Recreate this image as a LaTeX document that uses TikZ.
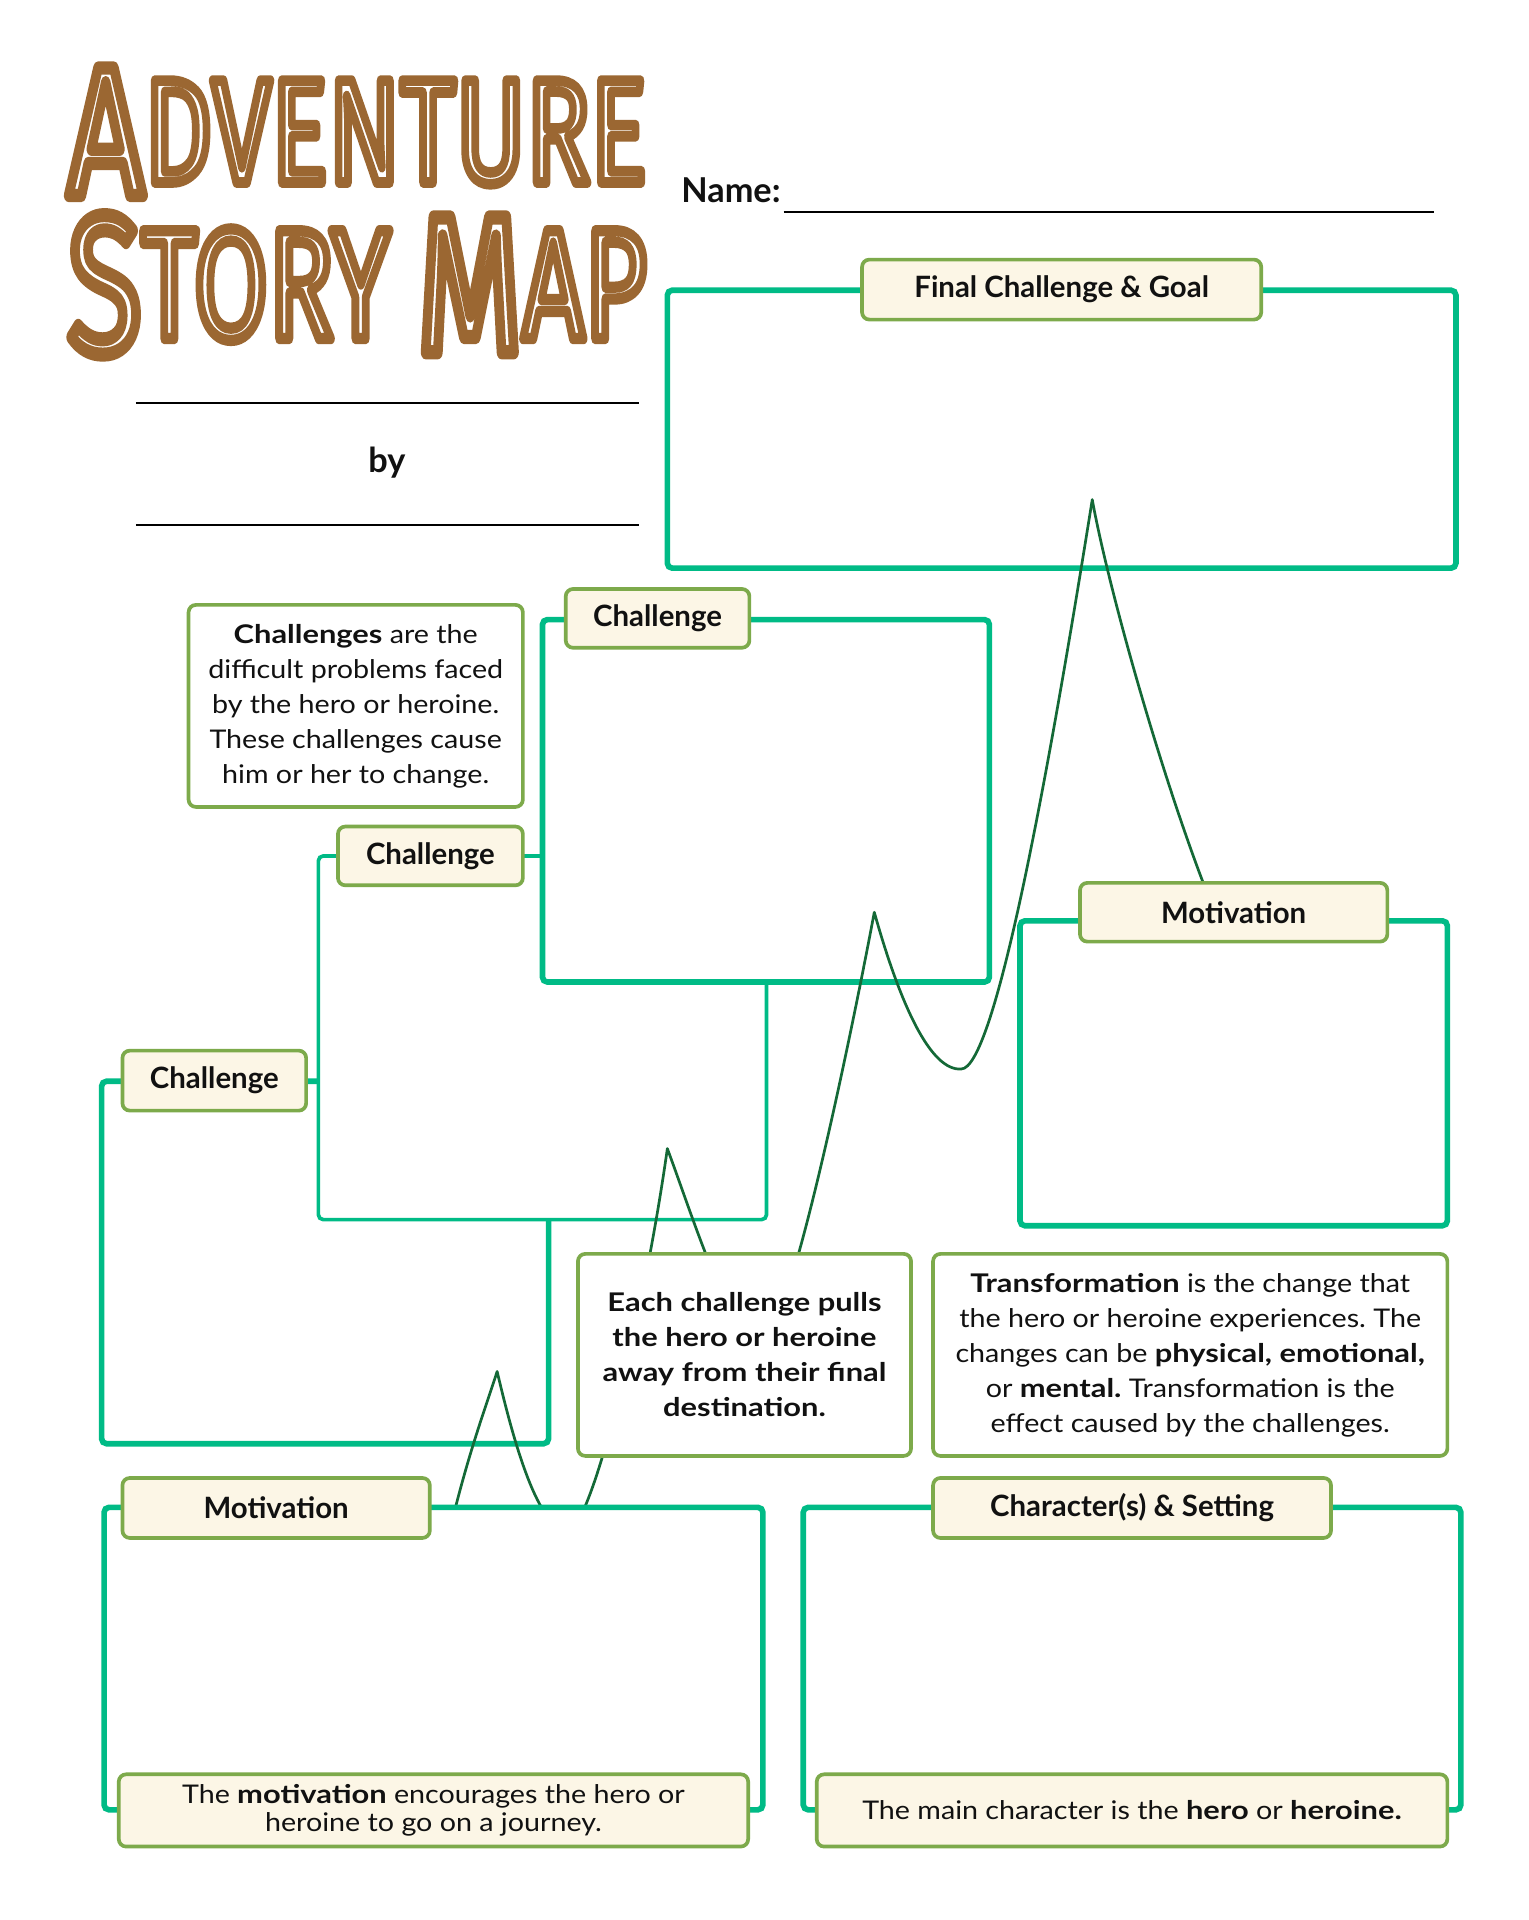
\documentclass[tikz,border=0pt]{standalone}
\usepackage{fontspec}
\setmainfont{Lato}
\newfontfamily\bodyfont{Lato}[FakeStretch=1.115, BoldFeatures={FakeStretch=1.2}]
\newfontfamily\titlefont{Fira Sans}
\usepackage{graphicx}
\frenchspacing
\definecolor{boxgreen}{HTML}{00BB86}
\definecolor{labelgreen}{HTML}{7DAA4B}
\definecolor{cream}{HTML}{FCF6E6}
\definecolor{curvegreen}{HTML}{146937}
\definecolor{titlebrown}{HTML}{9B6732}
\definecolor{inkblack}{HTML}{111111}
% one copy of the text: white fill, thick brown outline -> brown letters with a thin white inline
\newcommand\tl[1]{{\color{white}\special{pdf:literal direct 2 Tr 1 j 2.3 w 0.608 0.404 0.196 RG}#1\special{pdf:literal direct 0 Tr}}}
\newcommand\bigsmall[2]{\scalebox{1.25}{\tl{#1}}\raisebox{2.8pt}{\tl{#2}}}
\begin{document}
\begin{tikzpicture}[x=0.5pt,y=-0.5pt,
  gbox/.style={draw=boxgreen, line width=2.3pt, rounded corners=2pt, fill=white, inner sep=0pt, outer sep=0pt},
  gthin/.style={gbox, line width=1.5pt},
  lbl/.style={draw=labelgreen, line width=1.5pt, fill=cream, rounded corners=3pt, inner sep=0pt, outer sep=0pt,
    font=\bfseries\fontsize{12}{14}\selectfont, text=inkblack},
  tbox/.style={draw=labelgreen, line width=1.5pt, fill=white, rounded corners=3pt, inner sep=0pt, outer sep=0pt,
    align=center, text=inkblack, font=\bodyfont\fontsize{10.5}{14.3}\selectfont},
  capbox/.style={lbl, font=\bodyfont\fontsize{10.5}{11.5}\selectfont, align=center},
  rule/.style={draw=black, line width=0.75pt},
  hillline/.style={draw=curvegreen, line width=1.1pt, line join=round}]
\path[use as bounding box, fill=white] (0,0) rectangle (1248,1568);

% title
\node[anchor=south west, inner sep=0pt] (title1) at (55,160)
  {\resizebox{236.5pt}{52pt}{\fontsize{32}{32}\titlefont\bigsmall{A}{DVENTURE}}};
\node[anchor=south west, inner sep=0pt] (title2) at (55,290)
  {\resizebox{236.5pt}{56pt}{\fontsize{32}{32}\titlefont\bigsmall{S}{TORY}\hspace{8pt}\bigsmall{M}{AP}}};

% name and by
\node[anchor=base west, inner sep=0pt, font=\bfseries\fontsize{14}{16}\selectfont, text=inkblack] (name) at (556,165) {Name:};
\coordinate (n1) at (640,173); \coordinate (n2) at (1171,173);
\draw[rule] (n1) -- (n2);
\coordinate (b1) at (111,329); \coordinate (b2) at (522,329);
\coordinate (b3) at (111,429); \coordinate (b4) at (522,429);
\draw[rule] (b1) -- (b2);
\draw[rule] (b3) -- (b4);
\node[font=\bfseries\fontsize{14}{16}\selectfont, text=inkblack] (by) at (316,378) {by};

% green frames
\node[gbox, minimum width=182.5pt, minimum height=148pt] (c1) at (265.5,1031) {};
\node[gthin, minimum width=183pt, minimum height=148.5pt] (c2) at (443,847.5) {};
\node[gbox, minimum width=182.5pt, minimum height=148pt] (c3) at (625.5,654) {};
\node[gbox, fill=none, minimum width=322pt, minimum height=113.5pt] (final) at (867,350.5) {};
\node[gbox, minimum width=174.5pt, minimum height=124.5pt] (motr) at (1007.5,876.5) {};

% the path of the story
\draw[hillline] (372,1231) .. controls (385,1180) and (398,1145) .. (406,1120)
  .. controls (420,1180) and (440,1250) .. (464,1250)
  .. controls (482,1250) and (525,1080) .. (545,938)
  .. controls (568,1000) and (597,1095) .. (622,1095)
  .. controls (645,1095) and (700,820) .. (714,745)
  .. controls (735,820) and (760,875) .. (785,873)
  .. controls (812,873) and (855,640) .. (892,408)
  .. controls (905,480) and (950,640) .. (990,740);

\node[gbox, minimum width=269pt, minimum height=123.5pt] (motb) at (354,1354.5) {};
\node[gbox, minimum width=268.5pt, minimum height=123.5pt] (chr) at (924.5,1354.5) {};

% labels
\node[lbl, minimum width=163pt, minimum height=24.5pt] (lfinal) at (867,236.5) {Final Challenge \& Goal};
\node[lbl, minimum width=75pt, minimum height=24pt] (lc3) at (537,505) {Challenge};
\node[lbl, minimum width=75.5pt, minimum height=24pt] (lc2) at (351.5,699) {Challenge};
\node[lbl, minimum width=75pt, minimum height=24.5pt] (lc1) at (175,882.5) {Challenge};
\node[lbl, minimum width=125.5pt, minimum height=24pt] (lmotr) at (1007.5,745) {Motivation};
\node[lbl, minimum width=125.5pt, minimum height=24.5pt] (lmotb) at (225.5,1231.5) {Motivation};
\node[lbl, minimum width=162.5pt, minimum height=24.5pt] (lchr) at (924.5,1231.5) {Character(s) \& Setting};

% text boxes
\node[tbox, minimum width=136.5pt, minimum height=82.5pt] (tchal) at (290.5,576.5)
  {\textbf{Challenges} are the\\ difficult problems faced\\ by the hero or heroine.\\ These challenges cause\\ him or her to change.};
\node[tbox, minimum width=136pt, minimum height=82.5pt, font=\bodyfont\bfseries\fontsize{10.5}{14.3}\selectfont] (teach) at (608,1106.5)
  {Each challenge pulls\\ the hero or heroine\\ away from their final\\ destination.};
\node[tbox, minimum width=210pt, minimum height=82.5pt] (ttrans) at (972,1106.5)
  {\textbf{Transformation} is the change that\\ the hero or heroine experiences. The\\ changes can be \textbf{physical, emotional,}\\ or \textbf{mental.} Transformation is the\\ effect caused by the challenges.};
\node[capbox, minimum width=257pt, minimum height=29.5pt] (capl) at (354,1478.5)
  {The \textbf{motivation} encourages the hero or\\ heroine to go on a journey.};
\node[capbox, minimum width=257.5pt, minimum height=29.5pt] (capr) at (924.5,1478.5)
  {The main character is the \textbf{hero} or \textbf{heroine.}};
\end{tikzpicture}
\end{document}
